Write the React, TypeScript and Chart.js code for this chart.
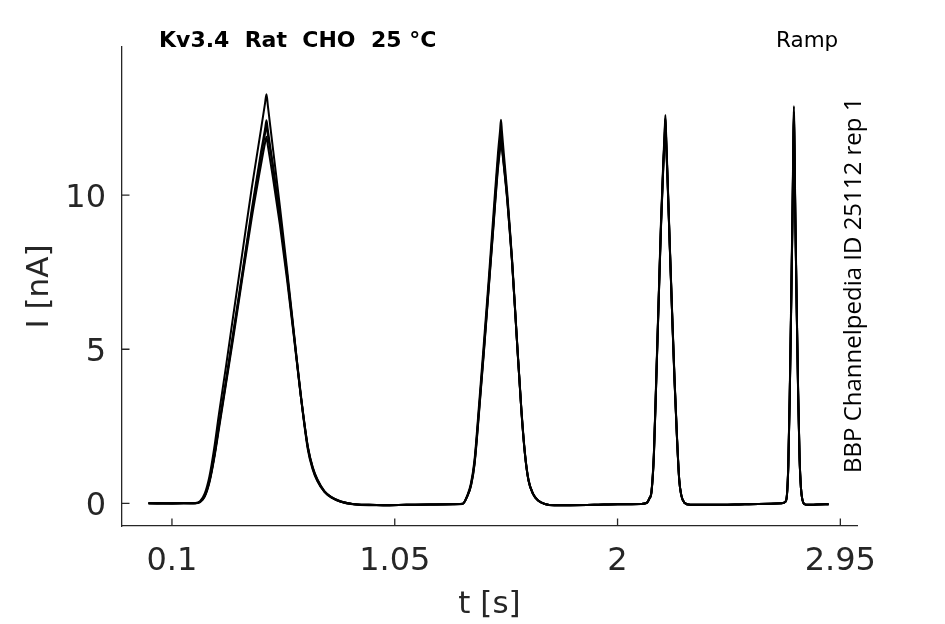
import { useEffect, useRef } from 'react'
import Chart from 'chart.js/auto'

// sample times [s], denser round the four ramp peaks
const times = [
  0, 0.05, 0.1, 0.15, 0.2,
  0.22, 0.24, 0.26, 0.28, 0.3, 0.33, 0.36, 0.4, 0.44, 0.48, 0.497, 0.503,
  0.509, 0.53, 0.56, 0.59, 0.62, 0.65, 0.68, 0.7, 0.72, 0.75, 0.78, 0.82, 0.87, 0.94, 1.0,
  1.1, 1.2, 1.3, 1.34,
  1.36, 1.375, 1.39, 1.41, 1.43, 1.45, 1.47, 1.49, 1.499, 1.503,
  1.507, 1.515, 1.53, 1.55, 1.57, 1.59, 1.605, 1.62, 1.64, 1.66, 1.69, 1.73, 1.8,
  1.9, 2.0, 2.1, 2.125,
  2.135, 2.145, 2.155, 2.165, 2.175, 2.185, 2.195, 2.201, 2.204,
  2.207, 2.213, 2.223, 2.233, 2.243, 2.253, 2.263, 2.272, 2.285, 2.31,
  2.4, 2.5, 2.6, 2.7, 2.715,
  2.722, 2.728, 2.734, 2.74, 2.746, 2.75, 2.752,
  2.754, 2.758, 2.764, 2.77, 2.776, 2.782, 2.788, 2.796, 2.81,
  2.85, 2.9,
]

// current [nA] of each sweep
const sweepA = [
  0.0, -0.01, 0.0, 0.0, 0.01,
  0.07, 0.32, 0.88, 1.78, 2.88, 4.42, 6.02, 8.12, 10.22, 12.15, 12.99, 13.28,
  12.9, 11.55, 9.65, 7.65, 5.55, 3.45, 1.72, 1.1, 0.72, 0.37, 0.18, 0.05, -0.03, -0.06, -0.06,
  -0.05, -0.04, -0.03, -0.01,
  0.27, 0.65, 1.4, 3.25, 5.2, 7.2, 9.3, 11.35, 12.1, 12.45,
  12.08, 11.35, 10.05, 7.95, 5.45, 3.05, 1.65, 0.78, 0.31, 0.1, -0.02, -0.06, -0.06,
  -0.05, -0.03, -0.02, 0.01,
  0.16, 0.42, 1.65, 4.1, 6.6, 9.1, 11.1, 12.1, 12.6,
  12.0, 10.65, 8.35, 6.15, 4.05, 2.25, 0.78, 0.26, 0.02, -0.05,
  -0.05, -0.04, -0.02, 0.0, 0.04,
  0.26, 1.25, 3.5, 6.45, 9.6, 12.0, 12.89,
  11.95, 9.45, 6.4, 3.65, 1.52, 0.5, 0.12, -0.02, -0.05,
  -0.04, -0.03,
]

const sweepB = [
  0.0, 0.0, -0.01, 0.0, 0.0,
  0.05, 0.25, 0.74, 1.52, 2.52, 3.98, 5.48, 7.48, 9.52, 11.42, 12.15, 12.43,
  12.1, 11.0, 9.3, 7.45, 5.45, 3.45, 1.78, 1.14, 0.74, 0.38, 0.19, 0.05, -0.02, -0.05, -0.06,
  -0.05, -0.04, -0.02, -0.01,
  0.25, 0.6, 1.32, 3.12, 5.02, 7.02, 9.05, 11.1, 11.78, 12.1,
  11.75, 11.1, 9.9, 7.9, 5.4, 3.02, 1.62, 0.76, 0.3, 0.1, -0.02, -0.06, -0.06,
  -0.05, -0.03, -0.02, 0.02,
  0.15, 0.4, 1.6, 4.0, 6.5, 9.0, 11.0, 11.95, 12.45,
  11.85, 10.6, 8.3, 6.1, 4.0, 2.2, 0.76, 0.25, 0.02, -0.05,
  -0.05, -0.04, -0.02, 0.0, 0.05,
  0.25, 1.2, 3.4, 6.3, 9.4, 11.85, 12.7,
  11.8, 9.3, 6.3, 3.6, 1.5, 0.5, 0.12, -0.02, -0.05,
  -0.04, -0.03,
]

const sweepC = [
  0.0, 0.01, 0.0, 0.0, 0.0,
  0.05, 0.24, 0.72, 1.5, 2.48, 3.92, 5.4, 7.4, 9.42, 11.28, 12.0, 12.27,
  11.95, 10.95, 9.3, 7.5, 5.5, 3.5, 1.8, 1.16, 0.76, 0.39, 0.2, 0.06, -0.02, -0.05, -0.06,
  -0.05, -0.04, -0.03, -0.01,
  0.24, 0.58, 1.28, 3.05, 4.95, 6.95, 8.95, 10.95, 11.6, 11.9,
  11.6, 11.0, 9.85, 7.85, 5.4, 3.0, 1.6, 0.75, 0.3, 0.1, -0.02, -0.06, -0.06,
  -0.05, -0.03, -0.02, 0.02,
  0.14, 0.38, 1.55, 3.95, 6.45, 8.9, 10.9, 11.82, 12.3,
  11.7, 10.5, 8.25, 6.05, 3.95, 2.18, 0.75, 0.25, 0.02, -0.05,
  -0.05, -0.04, -0.02, 0.0, 0.05,
  0.24, 1.18, 3.35, 6.2, 9.25, 11.7, 12.5,
  11.6, 9.2, 6.25, 3.55, 1.48, 0.5, 0.12, -0.02, -0.05,
  -0.04, -0.03,
]

const sweepD = [
  0.0, 0.0, 0.0, 0.01, 0.0,
  0.04, 0.22, 0.68, 1.45, 2.4, 3.85, 5.3, 7.3, 9.25, 11.0, 11.7, 11.9,
  11.6, 10.6, 9.05, 7.3, 5.4, 3.45, 1.82, 1.18, 0.78, 0.4, 0.2, 0.06, -0.02, -0.05, -0.06,
  -0.05, -0.04, -0.03, -0.02,
  0.24, 0.57, 1.25, 3.0, 4.9, 6.9, 8.9, 10.85, 11.5, 11.8,
  11.52, 10.95, 9.8, 7.85, 5.4, 3.0, 1.6, 0.75, 0.3, 0.1, -0.02, -0.06, -0.06,
  -0.05, -0.03, -0.02, 0.02,
  0.14, 0.38, 1.56, 3.98, 6.5, 8.95, 10.95, 12.0, 12.5,
  11.9, 10.55, 8.28, 6.08, 3.98, 2.2, 0.76, 0.25, 0.02, -0.05,
  -0.05, -0.04, -0.02, 0.0, 0.05,
  0.24, 1.2, 3.38, 6.25, 9.3, 11.75, 12.6,
  11.7, 9.25, 6.28, 3.58, 1.5, 0.5, 0.12, -0.02, -0.05,
  -0.04, -0.03,
]

const sweeps = [sweepA, sweepB, sweepC, sweepD]

const xTicks = [0.1, 1.05, 2, 2.95]
const yTicks = [0, 5, 10]
const xMin = -0.113
const xMax = 3.021
const yMin = -0.736
const yMax = 14.81

const titleText = 'Kv3.4  Rat  CHO  25 °C'
const protocolText = 'Ramp'
const sourceText = 'BBP Channelpedia ID 25112 rep 1'

const axisColor = '#262626'
const tickFont = { family: 'DejaVu Sans', size: 32 }
const labelFont = { family: 'DejaVu Sans', size: 31 }

// matlab style: ticks point into the plot, plus the corner labels
const decorations = {
  id: 'decorations',
  afterDraw(chart: Chart) {
    const { ctx, chartArea, scales } = chart
    ctx.save()
    ctx.strokeStyle = axisColor
    ctx.lineWidth = 1.3
    ctx.beginPath()
    for (const v of xTicks) {
      const px = scales.x.getPixelForValue(v)
      ctx.moveTo(px, chartArea.bottom)
      ctx.lineTo(px, chartArea.bottom - 7.5)
    }
    for (const v of yTicks) {
      const py = scales.y.getPixelForValue(v)
      ctx.moveTo(chartArea.left, py)
      ctx.lineTo(chartArea.left + 7.5, py)
    }
    ctx.stroke()

    ctx.fillStyle = '#000'
    ctx.textBaseline = 'alphabetic'
    ctx.textAlign = 'left'
    ctx.font = 'bold 22px "DejaVu Sans"'
    ctx.fillText(titleText, 159, 47)
    ctx.font = '21.5px "DejaVu Sans"'
    ctx.fillText(protocolText, 776, 47)

    ctx.translate(861, 473)
    ctx.rotate(-Math.PI / 2)
    ctx.font = '24px "Open Sans"'
    ctx.fillText(sourceText, 0, 0)
    ctx.restore()
  },
}

export default function App() {
  const canvasRef = useRef<HTMLCanvasElement>(null)
  const chartRef = useRef<Chart | null>(null)

  useEffect(() => {
    if (!canvasRef.current) return
    if (chartRef.current) chartRef.current.destroy()

    chartRef.current = new Chart(canvasRef.current, {
      type: 'line',
      data: {
        datasets: sweeps.map((sweep, i) => ({
          label: `sweep ${i + 1}`,
          data: times.map((t, j) => ({ x: t, y: sweep[j] })),
          borderColor: '#000',
          borderWidth: 2,
          pointRadius: 0,
          cubicInterpolationMode: 'monotone' as const,
          fill: false,
        })),
      },
      options: {
        responsive: true,
        maintainAspectRatio: false,
        animation: false,
        layout: { padding: { left: 0, top: 47, right: 88, bottom: 0 } },
        plugins: {
          legend: { display: false },
          tooltip: { enabled: false },
        },
        scales: {
          x: {
            type: 'linear',
            min: xMin,
            max: xMax,
            afterBuildTicks: (scale) => {
              scale.ticks = xTicks.map((v) => ({ value: v }))
            },
            afterFit: (scale) => {
              scale.height = 98
            },
            grid: { display: true, drawOnChartArea: false, drawTicks: false },
            border: { display: true, color: axisColor, width: 1.3 },
            ticks: {
              autoSkip: false,
              maxRotation: 0,
              padding: 16,
              color: axisColor,
              font: tickFont,
              callback: (v) => String(v),
            },
            title: {
              display: true,
              text: 't [s]',
              color: axisColor,
              font: labelFont,
              padding: { top: 0, bottom: 0 },
            },
          },
          y: {
            type: 'linear',
            min: yMin,
            max: yMax,
            afterBuildTicks: (scale) => {
              scale.ticks = yTicks.map((v) => ({ value: v }))
            },
            afterFit: (scale) => {
              scale.width = 122
            },
            grid: { display: true, drawOnChartArea: false, drawTicks: false },
            border: { display: true, color: axisColor, width: 1.3 },
            ticks: {
              autoSkip: false,
              padding: 16,
              labelOffset: 3,
              color: axisColor,
              font: tickFont,
              callback: (v) => String(v),
            },
            title: {
              display: true,
              text: 'I [nA]',
              color: axisColor,
              font: labelFont,
              padding: { top: 21, bottom: 0 },
            },
          },
        },
      },
      plugins: [decorations],
    })

    return () => {
      if (chartRef.current) {
        chartRef.current.destroy()
        chartRef.current = null
      }
    }
  }, [])

  return (
    <div style={{ position: 'fixed', left: 0, top: 0, width: 945, height: 624, background: '#fff' }}>
      <canvas ref={canvasRef} />
    </div>
  )
}
